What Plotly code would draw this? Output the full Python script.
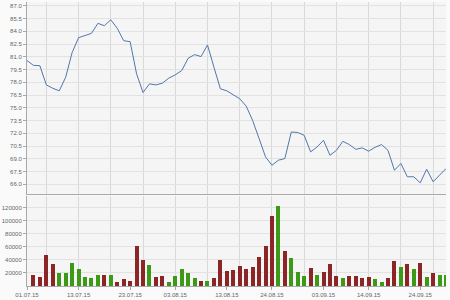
import pandas as pd
import plotly.graph_objects as go

# ---- data ----
start_date = "2015-07-01"
end_date = "2015-09-30"
dates = pd.bdate_range(start_date, end_date)

price = [80.56, 80.0, 79.95, 77.7, 77.3, 77.0, 78.6, 81.5, 83.25, 83.5,
         83.76, 84.94, 84.66, 85.36, 84.35, 82.9, 82.78, 79.0, 76.8, 77.82,
         77.7, 77.9, 78.5, 78.88, 79.38, 80.83, 81.26, 81.03, 82.4, 79.78,
         77.24, 77.0, 76.54, 76.07, 75.21, 73.52, 71.4, 69.23, 68.25, 68.84,
         69.03, 72.16, 72.1,
         71.77, 69.82, 70.4, 71.18, 69.42, 70.0, 71.06, 70.68, 70.12, 70.29,
         69.9, 70.36, 70.68, 70.0, 67.66, 68.45, 66.89, 66.89, 66.18, 67.78,
         66.3, 67.08, 67.86]

# volume from the 2nd trading day on
volume = [17300, 14250, 47300, 33600, 20900, 20900, 36100, 27000, 14250, 12700,
          17800, 16800, 17300, 7100, 11700, 8100, 62100, 39700, 32600, 14250,
          15300, 7100, 15300, 27000, 19800, 12700, 8100, 8650, 13200, 40700,
          23900, 25400, 31550, 26500, 30000, 44800, 61100, 107900, 123200, 53400,
          42700, 21900, 15800, 28000, 16800, 21400, 34100, 15800, 12700, 15800,
          15800, 12200, 14250, 11700, 7100, 13200, 39200, 30000, 34100, 26500,
          35600, 14250, 19800, 17800, 17800]
volume_dir = list("RRRRGGGGGGGRGRRRRRGRRGGGGGRGRRRRRRRRRRGRGGGRGRRRGRRRRGGRRGRGRGRGG")

label_dates = ["2015-07-01", "2015-07-13", "2015-07-23", "2015-08-03", "2015-08-13",
               "2015-08-24", "2015-09-03", "2015-09-14", "2015-09-24"]
price_ticks = [66.0 + 1.5 * k for k in range(15)]
volume_ticks = [20000, 40000, 60000, 80000, 100000, 120000]

# ---- derived ----
idx = list(range(len(dates)))
date_pos = {d.strftime("%Y-%m-%d"): i for i, d in enumerate(dates)}
label_pos = [date_pos[d] for d in label_dates]
label_txt = [pd.Timestamp(d).strftime("%d.%m.%y") for d in label_dates]
monday_pos = [i for i, d in enumerate(dates) if d.weekday() == 0]
col_map = {"R": "#8c2626", "G": "#3d9a16"}
bar_colors = [col_map[c] for c in volume_dir]

font = dict(family="Liberation Sans, Arial, sans-serif", size=6, color="#666666")
grid = "#e2e2e2"
vgrid = "#d9d9d9"
axcol = "#a8a8a8"

fig = go.Figure()
fig.add_trace(go.Scatter(x=idx, y=price, mode="lines",
                         line=dict(color="#5276aa", width=1),
                         xaxis="x", yaxis="y", showlegend=False, hoverinfo="skip"))
fig.add_trace(go.Bar(x=idx[1:], y=volume, marker=dict(color=bar_colors, line=dict(width=0)),
                     width=0.62, xaxis="x2", yaxis="y2", showlegend=False))

xr = [0, len(idx) - 1]
fig.update_layout(
    width=450, height=300,
    margin=dict(l=22, r=4, t=2, b=12),
    paper_bgcolor="#fafafa", plot_bgcolor="#f5f5f5",
    font=font, bargap=0,
    xaxis=dict(domain=[0, 1], anchor="y", range=xr, showticklabels=False,
               tickvals=label_pos, ticks="", showgrid=False, zeroline=False,
               showline=True, linecolor=axcol, linewidth=1,
               minor=dict(tickvals=monday_pos, showgrid=True, gridcolor=vgrid,
                          gridwidth=1, ticks="")),
    yaxis=dict(domain=[0.325, 1], anchor="x", range=[64.9, 87.45],
               tickvals=price_ticks, ticktext=[f"{v:.1f}" for v in price_ticks],
               ticks="outside", ticklen=3, tickcolor=axcol, gridcolor=grid,
               zeroline=False, showline=True, linecolor=axcol, linewidth=1,
               tickfont=font),
    xaxis2=dict(domain=[0, 1], anchor="y2", range=xr,
                tickvals=label_pos, ticktext=label_txt, ticks="outside",
                ticklen=3, tickcolor=axcol, showgrid=False, zeroline=False,
                showline=True, linecolor=axcol, linewidth=1, tickfont=font,
                minor=dict(tickvals=monday_pos, showgrid=True, gridcolor=vgrid,
                           gridwidth=1, ticks="")),
    yaxis2=dict(domain=[0, 0.318], anchor="x2", range=[0, 138000],
                tickvals=volume_ticks, ticktext=[str(v) for v in volume_ticks],
                ticks="outside", ticklen=3, tickcolor=axcol, gridcolor=grid,
                zeroline=False, showline=True, linecolor=axcol, linewidth=1,
                tickfont=font),
)

fig.write_html("out.html")
